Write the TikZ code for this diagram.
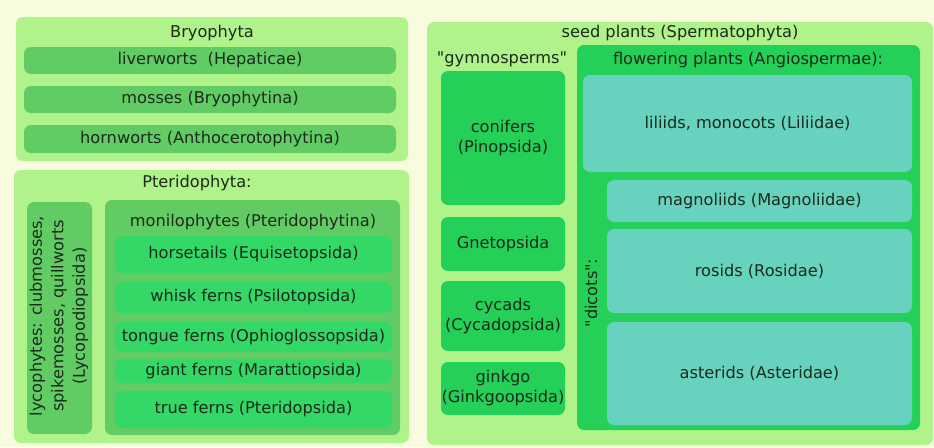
\documentclass[tikz,border=0pt]{standalone}
\usepackage{fontspec}
\setmainfont{DejaVu Sans}[Ligatures=TeXOff]
\definecolor{bgc}{HTML}{F7FCDF}
\definecolor{outerc}{HTML}{B1F38B}
\definecolor{midc}{HTML}{62CC64}
\definecolor{brightc}{HTML}{33D866}
\definecolor{seedc}{HTML}{24D058}
\definecolor{tealc}{HTML}{67D2BE}
\definecolor{txtc}{HTML}{1B2A1B}
\begin{document}
\begin{tikzpicture}[x=1pt,y=-1pt,
  every node/.style={text=txtc,font=\fontsize{16.2}{20}\selectfont},
  bx/.style={rounded corners=7pt,inner sep=0pt,align=center},
  ttl/.style={inner sep=0pt,anchor=center}]
\fill[bgc] (0,0) rectangle (934,447);
\useasboundingbox (0,0) rectangle (934,447);
% Bryophyta
\node[bx,fill=outerc,minimum width=392pt,minimum height=144pt] (bryo) at (212,89) {};
\node[ttl] (bryot) at (212,33) {Bryophyta};
\node[bx,fill=midc,minimum width=372pt,minimum height=27pt] (liver) at (210,60.5) {liverworts\ \ (Hepaticae)};
\node[bx,fill=midc,minimum width=372pt,minimum height=27pt] (moss) at (210,99.5) {mosses (Bryophytina)};
\node[bx,fill=midc,minimum width=372pt,minimum height=28pt] (horn) at (210,139) {hornworts (Anthocerotophytina)};
% Pteridophyta
\node[bx,fill=outerc,minimum width=395pt,minimum height=273pt] (pter) at (211.5,306.5) {};
\node[ttl] (ptert) at (197,183) {Pteridophyta:};
\node[bx,fill=midc,minimum width=65pt,minimum height=232pt] (lyco) at (59.5,318) {};
\node[inner sep=0pt,rotate=90,align=center,font=\fontsize{16.2}{21.5}\selectfont] (lycot) at (59,316) {lycophytes: clubmosses,\\spikemosses, quillworts\\(Lycopodiopsida)};
\node[bx,fill=midc,minimum width=295pt,minimum height=235pt] (moni) at (252.5,317.5) {};
\node[ttl] (monit) at (253,222) {monilophytes (Pteridophytina)};
\node[bx,fill=brightc,minimum width=277pt,minimum height=37pt] (horse) at (253.5,254.5) {horsetails (Equisetopsida)};
\node[bx,fill=brightc,minimum width=277pt,minimum height=31pt] (whisk) at (253.5,297.5) {whisk ferns (Psilotopsida)};
\node[bx,fill=brightc,minimum width=277pt,minimum height=30pt] (tongue) at (253.5,337) {tongue ferns (Ophioglossopsida)};
\node[bx,fill=brightc,minimum width=277pt,minimum height=24pt] (giant) at (253.5,371) {giant ferns (Marattiopsida)};
\node[bx,fill=brightc,minimum width=277pt,minimum height=37pt] (truef) at (253.5,409.5) {true ferns (Pteridopsida)};
% Seed plants
\node[bx,fill=outerc,minimum width=506pt,minimum height=423pt] (seed) at (680,233.5) {};
\node[ttl] (seedt) at (680,33) {seed plants (Spermatophyta)};
\node[ttl] (gymt) at (502,59) {"gymnosperms"};
\node[bx,fill=seedc,minimum width=124pt,minimum height=134pt] (conif) at (503,138) {conifers\\(Pinopsida)};
\node[bx,fill=seedc,minimum width=124pt,minimum height=54pt] (gneto) at (503,244) {Gnetopsida};
\node[bx,fill=seedc,minimum width=124pt,minimum height=70pt] (cycad) at (503,316) {cycads\\(Cycadopsida)};
\node[bx,fill=seedc,minimum width=124pt,minimum height=53pt] (ginkgo) at (503,388.5) {ginkgo\\(Ginkgoopsida)};
\node[bx,fill=seedc,minimum width=343pt,minimum height=385pt] (angio) at (748.5,237.5) {};
\node[ttl] (angiot) at (748,60) {flowering plants (Angiospermae):};
\node[bx,fill=tealc,minimum width=329pt,minimum height=97pt] (lili) at (747.5,123.5) {liliids, monocots (Liliidae)};
\node[bx,fill=tealc,minimum width=305pt,minimum height=42pt] (magno) at (759.5,201) {magnoliids (Magnoliidae)};
\node[bx,fill=tealc,minimum width=305pt,minimum height=84pt] (rosid) at (759.5,271) {rosids (Rosidae)};
\node[bx,fill=tealc,minimum width=305pt,minimum height=103pt] (aster) at (759.5,373.5) {asterids (Asteridae)};
\node[inner sep=0pt,rotate=90] (dicot) at (591,293) {"dicots":};
\end{tikzpicture}
\end{document}
